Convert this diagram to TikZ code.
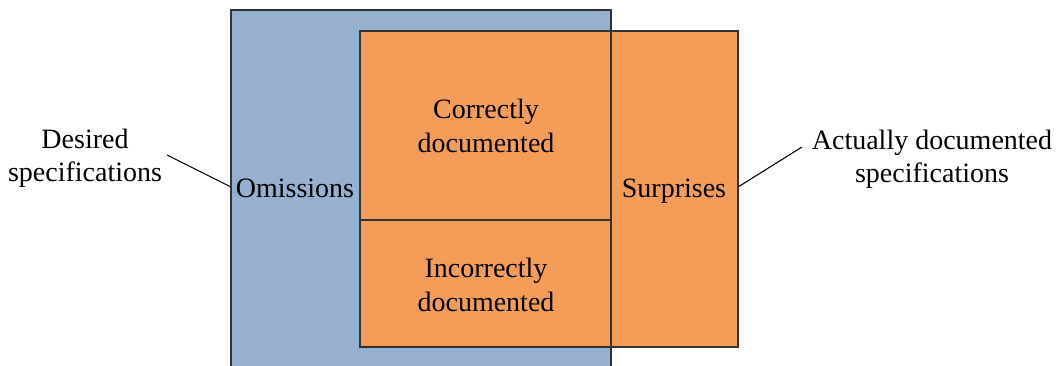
\documentclass[tikz,border=0pt]{standalone}
\usepackage{fontspec}
\setmainfont{Liberation Serif}
\definecolor{bluefill}{RGB}{149,176,209}
\definecolor{orangefill}{RGB}{244,157,89}
\definecolor{edge}{RGB}{50,50,50}
\begin{document}
\begin{tikzpicture}[x=0.75pt,y=-0.75pt,
  box/.style={draw=edge,line width=1.1pt},
  lbl/.style={font=\fontsize{21}{25}\selectfont,align=center,inner sep=0pt},
  leader/.style={draw=black,line width=0.8pt}]
\useasboundingbox (0,0) rectangle (1060,365);
\fill[white] (0,0) rectangle (1060,365);
% blue desired specifications
\path[box,fill=bluefill] (231,10) rectangle (611,375);
% orange actually documented
\path[box,fill=orangefill] (360,31) rectangle (738,347);
\draw[box] (611,31) -- (611,347);
\draw[box] (360,220) -- (611,220);
\coordinate (bl) at (231,187);
\coordinate (or) at (738,187);
\node[lbl] (corr) at (486,126) {Correctly\\documented};
\node[lbl] (incorr) at (486,285) {Incorrectly\\documented};
\node[lbl,anchor=base] (omis) at (295,197) {Omissions};
\node[lbl,anchor=base] (surp) at (674,197) {Surprises};
\node[lbl] (desired) at (85,158) {Desired\\specifications};
\node[lbl] (actual) at (932,159) {Actually documented\\specifications};
\coordinate (dl) at (167,155);
\coordinate (al) at (802,147);
\draw[leader] (dl) -- (bl);
\draw[leader] (or) -- (al);
\end{tikzpicture}
\end{document}
